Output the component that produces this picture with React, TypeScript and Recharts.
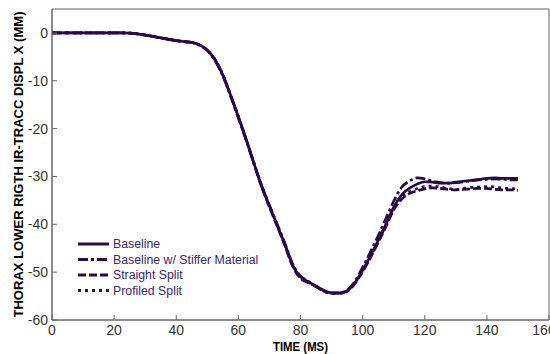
import { Legend, Line, LineChart, ReferenceArea, XAxis, YAxis } from "recharts";

const time = [
  0, 2.5, 5, 7.5, 10, 12.5, 15, 17.5, 20, 22.5, 25, 27.5, 30, 32.5, 35, 37.5, 40, 42.5, 45, 47.5,
  50, 52.5, 55, 57.5, 60, 62.5, 65, 67.5, 70, 72.5, 75, 77.5, 80, 82.5, 85, 87.5, 90, 92.5, 95, 97.5,
  100, 102.5, 105, 107.5, 110, 112.5, 115, 117.5, 120, 122.5, 125, 127.5, 130, 132.5, 135, 137.5, 140,
  142.5, 145, 147.5, 150,
];

const baseline = [
  0, 0, 0, 0, 0, 0, 0, 0, 0, 0,
  -0.05, -0.2, -0.45, -0.75, -1.05, -1.35, -1.6, -1.8, -2.0, -2.5,
  -3.6, -5.6, -8.8, -13.0, -17.5, -22.2, -27.2, -32.0, -36.2, -40.2,
  -44.3, -48.6, -51.0, -52.0, -52.9, -53.8, -54.3, -54.3, -53.9, -52.2,
  -49.6, -46.6, -43.4, -40.0, -36.4, -33.9, -32.5, -31.6, -31.1, -31.2,
  -31.4, -31.4, -31.2, -31.0, -30.8, -30.6, -30.4, -30.3, -30.4, -30.4,
  -30.4,
];

const stiffer = [
  0, 0, 0, 0, 0, 0, 0, 0, 0, 0,
  -0.05, -0.2, -0.4, -0.7, -1.0, -1.3, -1.6, -1.8, -2.0, -2.6,
  -3.7, -5.8, -9.0, -13.2, -17.8, -22.4, -27.3, -32.0, -36.0, -40.0,
  -44.0, -48.3, -50.8, -51.9, -53.0, -54.0, -54.4, -54.4, -53.8, -51.9,
  -49.0, -45.8, -42.4, -38.8, -35.2, -32.3, -31.0, -30.3, -30.5, -31.0,
  -31.3, -31.4, -31.3, -31.1, -30.9, -30.7, -30.6, -30.5, -30.6, -30.7,
  -30.7,
];

const straightSplit = [
  0, 0, 0, 0, 0, 0, 0, 0, 0, 0,
  -0.05, -0.2, -0.45, -0.75, -1.05, -1.35, -1.6, -1.8, -2.0, -2.5,
  -3.6, -5.6, -8.8, -13.1, -17.6, -22.3, -27.3, -32.2, -36.4, -40.4,
  -44.5, -48.8, -51.3, -52.2, -53.0, -53.9, -54.4, -54.4, -54.0, -52.4,
  -49.9, -47.0, -43.8, -40.5, -37.0, -34.8, -33.6, -33.0, -32.6, -32.4,
  -32.5, -32.7, -32.8, -32.7, -32.6, -32.5, -32.5, -32.7, -32.8, -32.8,
  -32.9,
];

const profiledSplit = [
  0, 0, 0, 0, 0, 0, 0, 0, 0, 0,
  -0.05, -0.2, -0.45, -0.75, -1.05, -1.35, -1.6, -1.8, -2.0, -2.5,
  -3.6, -5.6, -8.7, -13.0, -17.5, -22.2, -27.1, -31.9, -36.1, -40.1,
  -44.2, -48.5, -51.1, -52.1, -53.0, -53.9, -54.5, -54.5, -54.0, -52.3,
  -49.8, -46.8, -43.6, -40.2, -36.6, -34.4, -33.2, -32.5, -32.1, -32.0,
  -32.2, -32.5, -32.7, -32.5, -32.3, -32.2, -32.1, -32.2, -32.4, -32.5,
  -32.6,
];

const xTicks = [0, 20, 40, 60, 80, 100, 120, 140, 160];
const yTicks = [0, -10, -20, -30, -40, -50, -60];

const seriesNames = ["Baseline", "Baseline w/ Stiffer Material", "Straight Split", "Profiled Split"];
const seriesKeys = ["baseline", "stiffer", "straight", "profiled"];
const dashes = [undefined, "10 3 3 3", "8 3", "3 4"];

const data = time.map((t, i) => ({
  t,
  baseline: baseline[i],
  stiffer: stiffer[i],
  straight: straightSplit[i],
  profiled: profiledSplit[i],
}));

const LINE = "#2a0a4d";
const AXIS = "#666";
const FONT = "'Liberation Sans', Arial, sans-serif";

function YTitle({ viewBox }: any) {
  const cx = 19;
  const cy = viewBox.y + viewBox.height / 2;
  return (
    <text
      x={cx}
      y={cy}
      transform={`rotate(-90 ${cx} ${cy})`}
      textAnchor="middle"
      dominantBaseline="central"
      fontFamily={FONT}
      fontWeight="bold"
      fontSize={12}
      fill="#000"
      textLength={306}
      lengthAdjust="spacingAndGlyphs"
    >
      THORAX LOWER RIGTH IR-TRACC DISPL X (MM)
    </text>
  );
}

function XTitle({ viewBox }: any) {
  const cx = viewBox.x + viewBox.width / 2;
  return (
    <text
      x={cx}
      y={351}
      textAnchor="middle"
      fontFamily={FONT}
      fontWeight="bold"
      fontSize={12}
      fill="#000"
      textLength={55}
      lengthAdjust="spacingAndGlyphs"
    >
      TIME (MS)
    </text>
  );
}

// last label sits against the right edge, nudged left like the original
function XTick({ x, y, payload }: any) {
  const last = payload.value === xTicks[xTicks.length - 1];
  return (
    <text
      x={last ? x - 5 : x}
      y={y}
      dy="0.71em"
      textAnchor="middle"
      fontFamily={FONT}
      fontSize={14}
      fill="#333"
    >
      {payload.value}
    </text>
  );
}

function LegendBox() {
  return (
    <svg width={200} height={64}>
      {seriesNames.map((name, i) => {
        const y = 8 + i * 15.5;
        return (
          <g key={name}>
            <line x1={0} x2={31} y1={y} y2={y} stroke={LINE} strokeWidth={3} strokeDasharray={dashes[i]} />
            <text x={35} y={y} dominantBaseline="central" fontFamily={FONT} fontSize={12.3} fill="#3b2770">
              {name}
            </text>
          </g>
        );
      })}
    </svg>
  );
}

export default function App() {
  return (
    <div style={{ position: "absolute", left: 0, top: 0, background: "#fff" }}>
      <LineChart width={550} height={354} data={data} margin={{ top: 9, right: 1, bottom: 0, left: 0 }}>
        <ReferenceArea x1={0} x2={160} y1={-60} y2={5} fill="none" stroke={AXIS} ifOverflow="visible" />
        <XAxis
          dataKey="t"
          type="number"
          domain={[0, 160]}
          ticks={xTicks}
          interval={0}
          height={34}
          tickSize={-5}
          tickMargin={10}
          stroke={AXIS}
          tick={<XTick />}
          label={<XTitle />}
        />
        <YAxis
          type="number"
          domain={[-60, 5]}
          ticks={yTicks}
          interval={0}
          width={52}
          tickSize={-5}
          tickMargin={9}
          stroke={AXIS}
          tick={{ fill: "#333", fontSize: 14, fontFamily: FONT }}
          label={<YTitle />}
        />
        {seriesKeys.map((k, i) => (
          <Line
            key={k}
            dataKey={k}
            name={seriesNames[i]}
            type="monotone"
            stroke={LINE}
            strokeWidth={2.7}
            strokeDasharray={dashes[i]}
            dot={false}
            isAnimationActive={false}
          />
        ))}
        <Legend
          layout="vertical"
          align="center"
          verticalAlign="middle"
          content={<LegendBox />}
          wrapperStyle={{ position: "absolute", left: 78, top: 236, width: 200, height: 64 }}
        />
      </LineChart>
    </div>
  );
}
